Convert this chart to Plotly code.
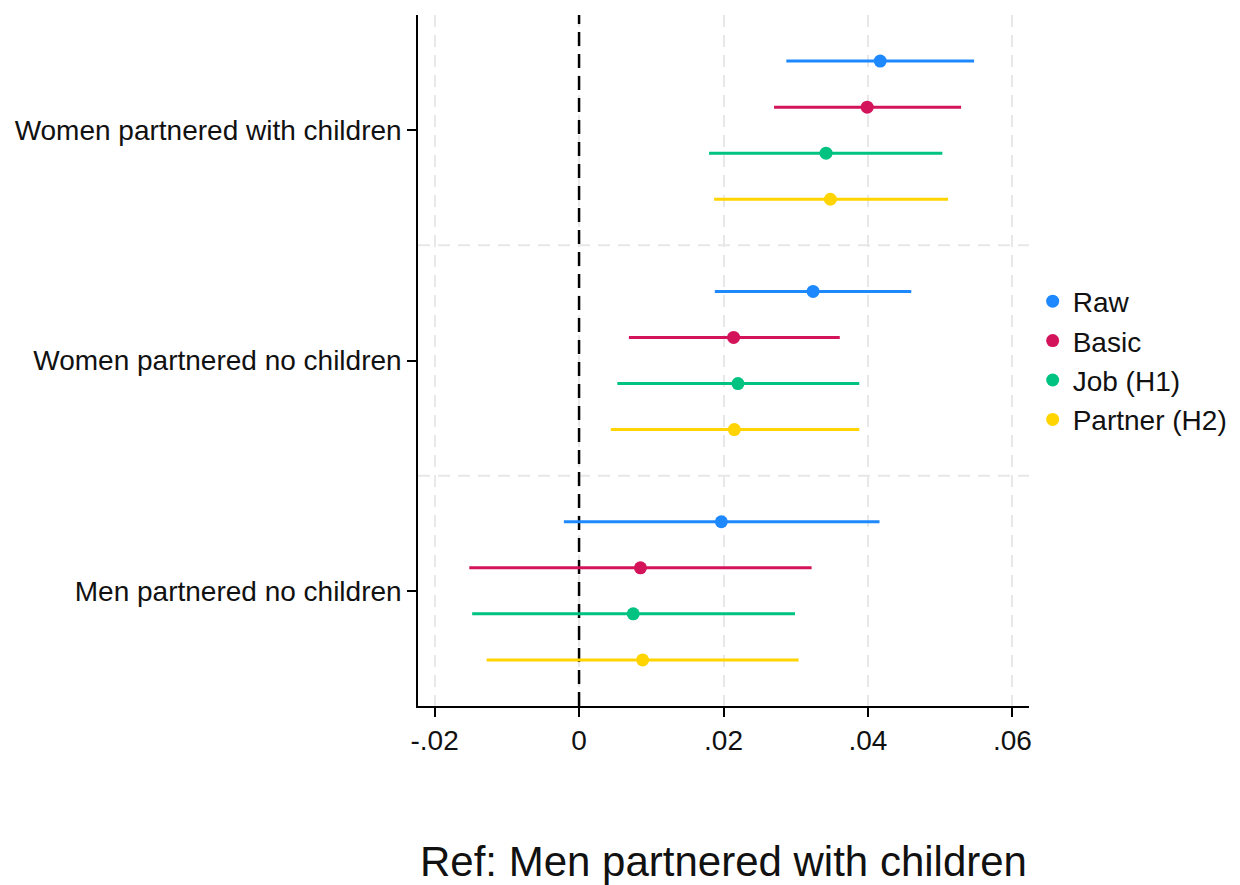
import plotly.graph_objects as go

groups = ["Men partnered no children", "Women partnered no children", "Women partnered with children"]
group_pos = [0, 5, 10]
models = ["Raw", "Basic", "Job (H1)", "Partner (H2)"]
colors = ["#1E88FF", "#D4145A", "#00C281", "#FFD400"]
offsets = [1.5, 0.5, -0.5, -1.5]

# estimates per model, ordered as groups
est = {
    "Raw":          [0.0197, 0.0324, 0.0417],
    "Basic":        [0.0085, 0.0214, 0.0399],
    "Job (H1)":     [0.0075, 0.0220, 0.0342],
    "Partner (H2)": [0.0088, 0.0215, 0.0348],
}
lo = {
    "Raw":          [-0.0021, 0.0188, 0.0287],
    "Basic":        [-0.0152, 0.0069, 0.0270],
    "Job (H1)":     [-0.0148, 0.0053, 0.0180],
    "Partner (H2)": [-0.0128, 0.0044, 0.0187],
}
hi = {
    "Raw":          [0.0416, 0.0460, 0.0547],
    "Basic":        [0.0322, 0.0361, 0.0529],
    "Job (H1)":     [0.0299, 0.0388, 0.0503],
    "Partner (H2)": [0.0304, 0.0388, 0.0511],
}
xticks = [-0.02, 0, 0.02, 0.04, 0.06]
xticklabels = ["-.02", "0", ".02", ".04", ".06"]
xtitle = "Ref: Men partnered with children"
xrange_ = [-0.0223, 0.0623]
yrange_ = [-2.5, 12.5]

fig = go.Figure()

# reference line at zero
fig.add_trace(go.Scatter(x=[0, 0], y=yrange_, mode="lines", showlegend=False, hoverinfo="skip",
                         line=dict(color="black", width=2.5, dash="14px,8px")))

for m, c, off in zip(models, colors, offsets):
    ys = [g + off for g in group_pos]
    fig.add_trace(go.Scatter(
        x=est[m], y=ys, mode="markers", name=m,
        marker=dict(color=c, size=13),
        error_x=dict(type="data", symmetric=False,
                     array=[h - e for h, e in zip(hi[m], est[m])],
                     arrayminus=[e - l for e, l in zip(est[m], lo[m])],
                     color=c, thickness=3, width=0),
    ))

# group separators
for a, b in zip(group_pos[:-1], group_pos[1:]):
    fig.add_shape(type="line", xref="paper", x0=0, x1=1, y0=(a + b) / 2, y1=(a + b) / 2,
                  line=dict(color="#e8e8e8", width=2, dash="12px,8px"), layer="below")

fig.update_layout(
    width=1232, height=877,
    margin=dict(l=408, r=208, t=7, b=179),
    paper_bgcolor="white", plot_bgcolor="white",
    font=dict(family="Liberation Sans, Arial, sans-serif", size=28, color="#111111"),
    showlegend=True,
    legend=dict(x=1.006, xanchor="left", y=0.5, yanchor="middle",
                font=dict(size=28), itemwidth=30,
                bgcolor="rgba(0,0,0,0)"),
    xaxis=dict(range=xrange_, tickvals=xticks, ticktext=xticklabels,
               showgrid=True, gridcolor="#e8e8e8", gridwidth=2, griddash="12px,8px",
               zeroline=False, showline=True, linecolor="black", linewidth=1.5,
               ticks="outside", ticklen=9, tickcolor="black", tickwidth=1.5,
               tickfont=dict(size=28)),
    yaxis=dict(range=yrange_, tickvals=group_pos, ticktext=groups,
               showgrid=False, zeroline=False, showline=True, linecolor="black", linewidth=1.5,
               ticks="outside", ticklen=9, tickcolor="black", tickwidth=1.5,
               tickfont=dict(size=28)),
    annotations=[dict(text=xtitle, xref="paper", yref="paper", x=0.5, y=-0.225,
                      xanchor="center", yanchor="middle", showarrow=False,
                      font=dict(size=42))],
)

fig.write_html("out.html")
